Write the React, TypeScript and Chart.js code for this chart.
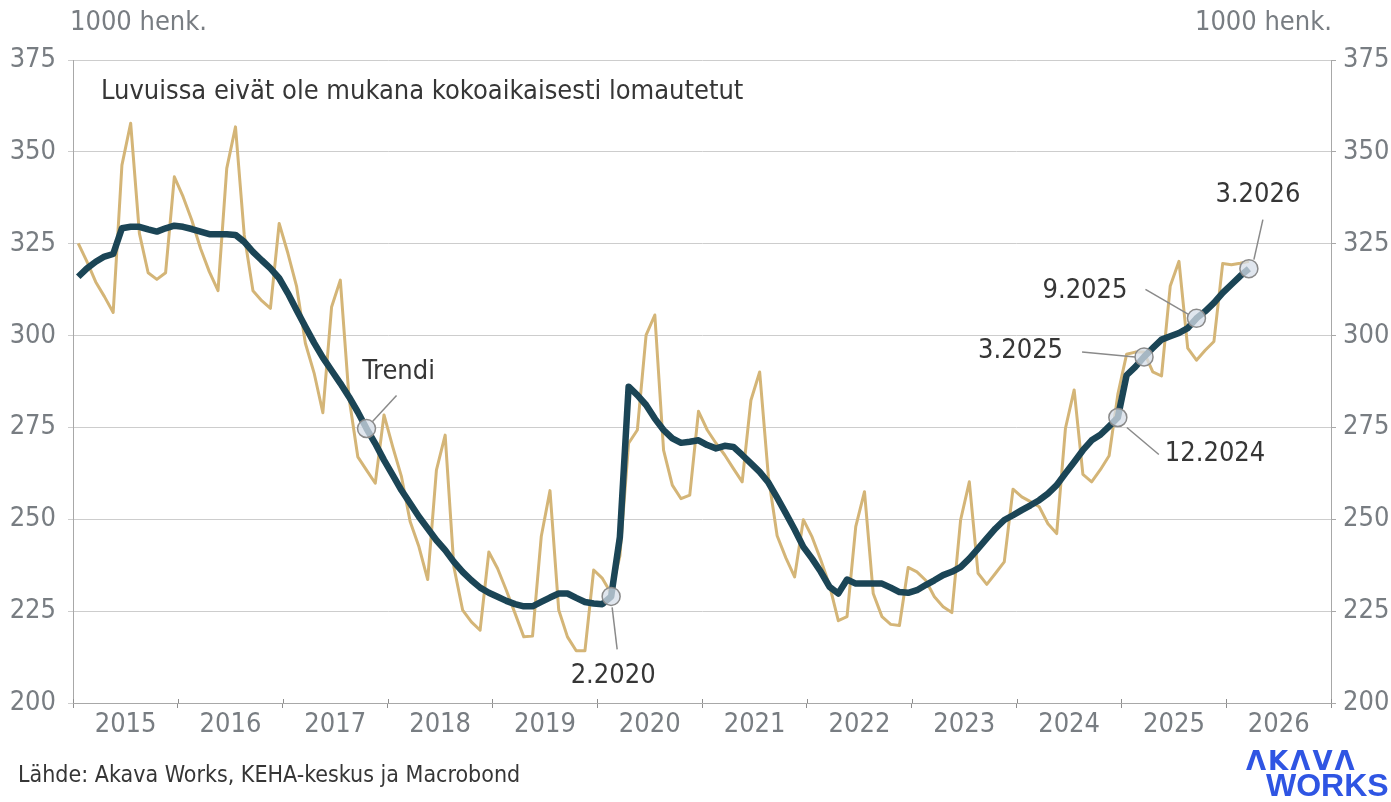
import { useEffect, useRef } from 'react';
import { Chart, registerables } from 'chart.js';

Chart.register(...registerables);

// ---------- DATA ----------
const START_YEAR = 2015;
const yearLabels = ['2015', '2016', '2017', '2018', '2019', '2020', '2021', '2022', '2023', '2024', '2025', '2026'];
const yTickValues = [200, 225, 250, 275, 300, 325, 350, 375];

// Monthly unemployed job seekers (1000 persons), Jan 2015 – Mar 2026
const actualValues = [
  325.1, 320.1, 314.6, 310.6, 306.3, 346.4, 357.8, 327.8, 317.1, 315.3, 317.1, 343.2, // 2015
  337.8, 331.4, 323.7, 317.4, 312.2, 345.5, 356.8, 327.4, 312.2, 309.5, 307.4, 330.5, // 2016
  322.4, 313.3, 297.9, 289.8, 279.0, 307.8, 315.1, 283.0, 267.0, 263.4, 259.8, 278.4, // 2017
  269.7, 261.6, 249.3, 242.5, 233.6, 263.4, 272.9, 237.0, 225.3, 222.1, 219.8, 241.1, // 2018
  236.6, 230.7, 224.4, 218.0, 218.2, 245.3, 257.8, 225.3, 218.0, 214.2, 214.2, 236.2, // 2019
  233.9, 229.8, 240.0, 270.7, 274.3, 300.1, 305.6, 268.8, 259.3, 255.6, 256.6, 279.4, // 2020
  274.3, 270.7, 267.5, 263.8, 260.2, 282.4, 290.1, 261.6, 245.5, 239.5, 234.3, 249.9, // 2021
  245.2, 238.9, 232.0, 222.4, 223.5, 248.0, 257.5, 229.8, 223.5, 221.4, 221.1, 236.9, // 2022
  235.7, 233.4, 228.9, 226.2, 224.6, 249.8, 260.2, 235.3, 232.3, 235.3, 238.4, 258.2, // 2023
  256.1, 254.8, 253.4, 248.8, 246.1, 274.7, 285.2, 262.2, 260.2, 263.5, 267.3, 284.0, // 2024
  294.9, 295.5, 295.5, 290.1, 289.0, 313.5, 320.2, 296.6, 293.3, 296.0, 298.4, 319.6, // 2025
  319.3, 319.7, 320.2, // 2026
];

const trendValues = [
  316.0, 318.3, 320.1, 321.5, 322.2, 329.2, 329.6, 329.6, 328.9, 328.3, 329.2, 329.9, // 2015
  329.6, 329.0, 328.3, 327.6, 327.6, 327.6, 327.4, 325.5, 322.8, 320.5, 318.3, 315.6, // 2016
  311.5, 306.9, 302.4, 298.0, 294.0, 290.5, 287.0, 283.3, 279.2, 274.7, 270.6, 266.1, // 2017
  262.0, 257.9, 254.3, 250.7, 247.5, 244.3, 241.6, 238.4, 235.7, 233.4, 231.4, 230.0, // 2018
  228.9, 227.8, 226.9, 226.3, 226.3, 227.5, 228.7, 229.8, 229.8, 228.6, 227.5, 227.1, // 2019
  226.9, 229.0, 245.2, 286.1, 283.8, 281.1, 277.4, 274.3, 272.0, 270.8, 271.1, 271.5, // 2020
  270.2, 269.3, 270.0, 269.7, 267.5, 265.2, 262.9, 260.0, 255.9, 251.6, 247.2, 242.5, // 2021
  239.3, 235.7, 231.6, 229.8, 233.6, 232.5, 232.5, 232.5, 232.5, 231.4, 230.2, 230.0, // 2022
  230.7, 232.1, 233.4, 234.8, 235.7, 237.0, 239.3, 242.0, 244.8, 247.5, 249.8, 251.1, // 2023
  252.5, 253.8, 255.2, 257.0, 259.3, 262.5, 265.6, 268.8, 271.5, 273.0, 275.3, 277.7, // 2024
  289.2, 291.5, 294.2, 296.6, 298.9, 299.8, 300.7, 302.0, 304.7, 306.6, 308.9, 311.6, // 2025
  313.9, 316.2, 318.2, // 2026
];

// Highlighted trend points (month index from Jan 2015) and their labels
const markerMonths = [33, 61, 119, 122, 128, 134];
const markerLabels = ['Trendi', '2.2020', '12.2024', '3.2025', '9.2025', '3.2026'];

const unitLabel = '1000 henk.';
const noteText = 'Luvuissa eivät ole mukana kokoaikaisesti lomautetut';
const sourceText = 'Lähde: Akava Works, KEHA-keskus ja Macrobond';

// ---------- LAYOUT / STYLE ----------
const W = 1391;
const H = 802;
const FONT = '"DejaVu Sans Condensed", "DejaVu Sans", sans-serif';
const GRAY_TEXT = '#787d82';
const DARK_TEXT = '#363636';
const TAN = '#d4b577';
const TREND = '#1b4556';
const MONTH_OFFSET = 0.6;

const calloutLayout = [
  { line: [6, -7, 30, -33], text: [32, -57], align: 'center' },
  { line: [1, 11, 6, 53], text: [2, 80], align: 'center' },
  { line: [9, 10, 41, 37], text: [47, 36], align: 'left' },
  { line: [-62, -5, -9, 0], text: [-81, -6], align: 'right' },
  { line: [-51, -29, -8, -4], text: [-69, -27], align: 'right' },
  { line: [14, -49, 5, -9], text: [9, -74], align: 'center' },
];

const toPoints = (arr: number[]) => arr.map((v, i) => ({ x: i + MONTH_OFFSET, y: v }));

const decorPlugin = {
  id: 'decor',
  afterDatasetsDraw(chart: any) {
    const { ctx } = chart;
    const meta = chart.getDatasetMeta(0);
    ctx.save();
    ctx.font = `27px ${FONT}`;
    ctx.fillStyle = DARK_TEXT;
    ctx.textBaseline = 'middle';
    meta.data.forEach((pt: any, k: number) => {
      const lay = calloutLayout[k];
      const px = pt.x;
      const py = pt.y;
      ctx.strokeStyle = '#8a8a8a';
      ctx.lineWidth = 1.5;
      ctx.beginPath();
      ctx.moveTo(px + lay.line[0], py + lay.line[1]);
      ctx.lineTo(px + lay.line[2], py + lay.line[3]);
      ctx.stroke();
      ctx.textAlign = lay.align as CanvasTextAlign;
      ctx.fillText(markerLabels[k], px + lay.text[0], py + lay.text[1]);
    });
    ctx.restore();
  },
  afterDraw(chart: any) {
    const { ctx } = chart;
    ctx.save();
    // inner half of the x-axis tick marks (ticks cross the axis)
    const xs = chart.scales.x;
    ctx.strokeStyle = '#8f8f8f';
    ctx.lineWidth = 1;
    xs.ticks.forEach((t: any) => {
      const px = Math.round(xs.getPixelForValue(t.value)) + 0.5;
      ctx.beginPath();
      ctx.moveTo(px, xs.top - 4);
      ctx.lineTo(px, xs.top);
      ctx.stroke();
    });

    ctx.textBaseline = 'middle';
    ctx.font = `27px ${FONT}`;
    ctx.fillStyle = GRAY_TEXT;
    ctx.textAlign = 'left';
    ctx.fillText(unitLabel, 70, 23);
    ctx.textAlign = 'right';
    ctx.fillText(unitLabel, 1332, 23);
    ctx.fillStyle = DARK_TEXT;
    ctx.textAlign = 'left';
    ctx.fillText(noteText, 101, 92);
    ctx.font = `23px ${FONT}`;
    ctx.fillText(sourceText, 18, 776);
    // logo
    ctx.fillStyle = '#2f55e3';
    ctx.font = `bold 26px "DejaVu Sans", sans-serif`;
    (ctx as any).letterSpacing = '2px';
    ctx.fillText('ΛKΛVΛ', 1246, 763);
    (ctx as any).letterSpacing = '0px';
    ctx.font = `bold 32px "Liberation Sans", Arial, sans-serif`;
    ctx.fillText('WORKS', 1266, 787);
    ctx.restore();
  },
};

export default function App() {
  const ref = useRef<HTMLCanvasElement | null>(null);

  useEffect(() => {
    if (!ref.current) return;
    const yearTicks = yearLabels.map((_, i) => i * 12).concat([yearLabels.length * 12]);
    const chart = new Chart(ref.current, {
      type: 'line',
      data: {
        datasets: [
          {
            label: 'markers',
            data: markerMonths.map((m) => ({ x: m + MONTH_OFFSET, y: trendValues[m] })),
            showLine: false,
            pointRadius: 9,
            pointHoverRadius: 9,
            pointBackgroundColor: 'rgba(214,221,232,0.75)',
            pointBorderColor: '#8a8a8a',
            pointBorderWidth: 1.5,
            order: 0,
          },
          {
            label: 'Trendi',
            data: toPoints(trendValues),
            borderColor: TREND,
            borderWidth: 6.5,
            pointRadius: 0,
            tension: 0,
            borderJoinStyle: 'round',
            order: 1,
          },
          {
            label: 'Työttömät työnhakijat',
            data: toPoints(actualValues),
            borderColor: TAN,
            borderWidth: 3,
            pointRadius: 0,
            tension: 0,
            borderJoinStyle: 'round',
            order: 2,
          },
        ],
      },
      options: {
        responsive: false,
        animation: false,
        devicePixelRatio: 1,
        layout: { padding: { top: 60, left: 0, right: 0, bottom: 0 } },
        plugins: { legend: { display: false }, tooltip: { enabled: false } },
        events: [],
        scales: {
          x: {
            type: 'linear',
            min: 0,
            max: yearLabels.length * 12,
            afterBuildTicks: (scale: any) => {
              scale.ticks = yearTicks.map((v) => ({ value: v }));
            },
            afterFit: (scale: any) => {
              scale.height = 99;
            },
            grid: { drawOnChartArea: false, drawTicks: true, tickLength: 5, color: '#8f8f8f' },
            border: { display: true, color: '#a8a8a8' },
            ticks: {
              autoSkip: false,
              maxRotation: 0,
              minRotation: 0,
              padding: 1,
              labelOffset: 52.6,
              color: GRAY_TEXT,
              font: { family: FONT, size: 27 },
              callback: (_v: any, i: number) => (i < yearLabels.length ? String(START_YEAR + i) : ''),
            },
          },
          y: {
            position: 'left',
            min: 200,
            max: 375,
            afterBuildTicks: (scale: any) => {
              scale.ticks = yTickValues.map((v) => ({ value: v }));
            },
            afterFit: (scale: any) => {
              scale.width = 73;
            },
            grid: { color: '#cdcdcd', tickLength: 5, lineWidth: 1 },
            border: { display: true, color: '#a8a8a8' },
            ticks: { padding: 12, color: GRAY_TEXT, font: { family: FONT, size: 27 } },
          },
          y2: {
            position: 'right',
            min: 200,
            max: 375,
            afterBuildTicks: (scale: any) => {
              scale.ticks = yTickValues.map((v) => ({ value: v }));
            },
            afterFit: (scale: any) => {
              scale.width = 60;
            },
            grid: { drawOnChartArea: false, color: '#a8a8a8', tickLength: 5 },
            border: { display: true, color: '#a8a8a8' },
            ticks: { padding: 7, color: GRAY_TEXT, font: { family: FONT, size: 27 } },
          },
        },
      },
      plugins: [decorPlugin],
    } as any);
    return () => chart.destroy();
  }, []);

  return (
    <div style={{ position: 'fixed', left: 0, top: 0, width: W, height: H, background: '#fff' }}>
      <canvas ref={ref} width={W} height={H} style={{ width: W, height: H, display: 'block' }} />
    </div>
  );
}
